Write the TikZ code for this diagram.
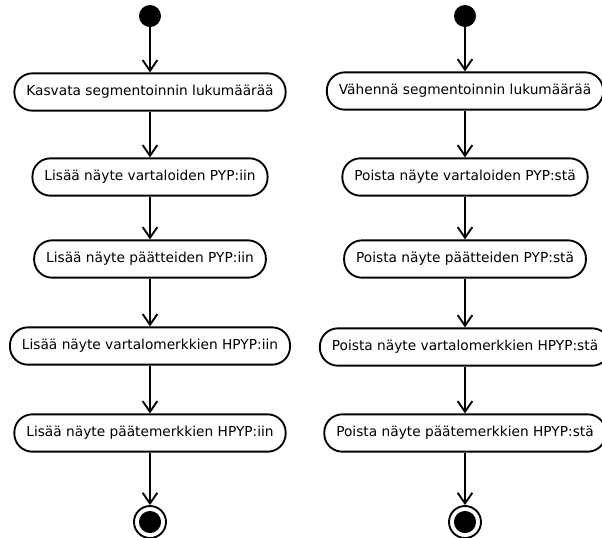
\documentclass[tikz,border=0pt]{standalone}
\usepackage{fontspec}
\setmainfont{DejaVu Sans}
\usetikzlibrary{arrows.meta}

\begin{document}
\begin{tikzpicture}
[x=0.75pt,y=0.75pt,
  lineDecorate/.style={-{Straight Barb[length=8pt,width=11pt]},line width=1.4pt},%
  nodeDecorate/.style={shape=rectangle,rounded corners=13.5pt,draw,line width=1.4pt,
    minimum height=28pt,inner xsep=9pt,font=\fontsize{10.3}{12}\selectfont},
  startDecorate/.style={shape=circle,fill,minimum size=16.5pt,inner sep=0pt},
  endDecorate/.style={shape=circle,draw,line width=1.4pt,minimum size=24pt,inner sep=0pt,
    path picture={\fill (path picture bounding box.center) circle (8.3pt);}}]
\useasboundingbox (0,0) rectangle (602,-537);
%% initial and final states
\foreach \nodename/\x in {L/150, R/465}
{
  \node (\nodename0) at (\x,-16) [startDecorate] {};
  \node (\nodename6) at (\x,-522) [endDecorate] {};
}
%% actions
\foreach \nodename/\x/\y/\txt in {
  L1/150/92/Kasvata segmentoinnin lukumäärää,
  L2/150/177/Lisää näyte vartaloiden PYP:iin,
  L3/150/259/Lisää näyte päätteiden PYP:iin,
  L4/150/346/Lisää näyte vartalomerkkien HPYP:iin,
  L5/150/433/Lisää näyte päätemerkkien HPYP:iin,
  R1/465/91/Vähennä segmentoinnin lukumäärää,
  R2/465/177/Poista näyte vartaloiden PYP:stä,
  R3/465/259/Poista näyte päätteiden PYP:stä,
  R4/465/347/Poista näyte vartalomerkkien HPYP:stä,
  R5/465/433/Poista näyte päätemerkkien HPYP:stä}
{
  \node (\nodename) at (\x,-\y) [nodeDecorate] {\txt};
}
%% transitions
\path
\foreach \startnode/\endnode in {
  L0/L1, L1/L2, L2/L3, L3/L4, L4/L5, L5/L6,
  R0/R1, R1/R2, R2/R3, R3/R4, R4/R5, R5/R6}
{
  (\startnode) edge[lineDecorate] (\endnode)
};
\end{tikzpicture}
\end{document}
